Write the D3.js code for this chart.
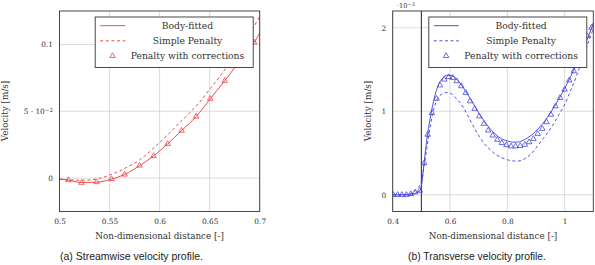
<!DOCTYPE html>
<html>
<head>
<meta charset="utf-8">
<script src="https://cdn.jsdelivr.net/npm/d3@7"></script>
<style>
  body { margin: 0; background: #fff; }
  svg { display: block; }
</style>
</head>
<body>
<div id="chart"></div>
<script>
// ---- data ----
const seriesNames = ["Body-fitted", "Simple Penalty", "Penalty with corrections"];

// (a) streamwise velocity
const streamBodyFitted = [[0.5,-0.0006],[0.509,-0.0016],[0.522,-0.0033],[0.537,-0.0031],[0.552,-0.0008],
  [0.565,0.0027],[0.58,0.0093],[0.594,0.0166],[0.608,0.0256],[0.622,0.0355],[0.6365,0.046],[0.6505,0.0592],
  [0.665,0.0728],[0.68,0.0875],[0.6945,0.1015],[0.7,0.1085]];
const streamSimplePenalty = [[0.5,-0.0008],[0.51,-0.0013],[0.52,-0.0016],[0.53,-0.0014],[0.54,-0.0002],
  [0.55,0.0022],[0.56,0.0053],[0.57,0.0092],[0.58,0.0136],[0.59,0.0198],[0.6,0.0267],[0.61,0.0339],
  [0.62,0.0414],[0.63,0.0488],[0.64,0.0568],[0.65,0.0664],[0.66,0.0758],[0.67,0.0863],[0.68,0.0972],
  [0.69,0.108],[0.7,0.121]];
const streamCorrected = [[0.509,-0.0015],[0.522,-0.0035],[0.537,-0.003],[0.552,-0.0007],[0.565,0.0027],
  [0.58,0.0094],[0.594,0.0166],[0.608,0.0256],[0.622,0.0355],[0.6365,0.046],[0.6505,0.0594],
  [0.665,0.0728],[0.679,0.0875],[0.6945,0.1015]];
const streamXTicks = [0.5, 0.55, 0.6, 0.65, 0.7];
const streamXLabels = ["0.5", "0.55", "0.6", "0.65", "0.7"];
const streamYTicks = [0, 0.05, 0.1];
const streamYLabels = ["0", "5 · 10^−2", "0.1"];

// (b) transverse velocity (×10^-3)
const transBodyFitted = [[0.4,0],[0.46,0],[0.48,0.02],[0.495,0.05],[0.5,0.1],[0.51,0.4],[0.52,0.68],
  [0.53,0.9],[0.54,1.08],[0.55,1.22],[0.56,1.32],[0.575,1.4],[0.59,1.43],[0.6,1.43],[0.615,1.41],
  [0.63,1.36],[0.645,1.29],[0.66,1.21],[0.68,1.1],[0.7,0.98],[0.72,0.88],[0.74,0.79],[0.76,0.72],
  [0.78,0.67],[0.8,0.645],[0.82,0.63],[0.835,0.63],[0.85,0.645],[0.87,0.68],[0.89,0.73],[0.91,0.8],
  [0.93,0.88],[0.95,0.98],[0.97,1.09],[0.99,1.21],[1.01,1.34],[1.03,1.48],[1.05,1.63],[1.07,1.79],
  [1.09,1.96],[1.1,2.06]];
const transSimplePenalty = [[0.4,0],[0.44,0],[0.46,0.01],[0.48,0.05],[0.49,0.09],[0.5,0.16],[0.51,0.35],
  [0.52,0.58],[0.53,0.8],[0.54,0.98],[0.55,1.1],[0.56,1.17],[0.575,1.21],[0.59,1.225],[0.605,1.21],
  [0.62,1.16],[0.64,1.08],[0.66,0.96],[0.68,0.83],[0.7,0.71],[0.72,0.61],[0.74,0.54],[0.76,0.48],
  [0.78,0.445],[0.8,0.42],[0.82,0.405],[0.84,0.405],[0.86,0.43],[0.88,0.48],[0.9,0.56],[0.92,0.65],
  [0.94,0.74],[0.96,0.84],[0.98,0.96],[1.0,1.08],[1.02,1.24],[1.04,1.41],[1.06,1.6],[1.08,1.8],[1.1,1.99]];
const transCorrected = [[0.402,0],[0.417,0],[0.432,0],[0.448,0],[0.463,0.01],[0.478,0.03],[0.495,0.05],
  [0.51,0.38],[0.522,0.72],[0.537,0.98],[0.553,1.15],[0.565,1.31],[0.58,1.38],[0.595,1.41],[0.61,1.4],
  [0.623,1.36],[0.639,1.3],[0.655,1.22],[0.67,1.12],[0.686,1.03],[0.702,0.94],[0.718,0.85],[0.733,0.77],
  [0.749,0.71],[0.765,0.66],[0.781,0.62],[0.797,0.595],[0.813,0.58],[0.829,0.58],[0.845,0.585],
  [0.861,0.6],[0.876,0.63],[0.891,0.67],[0.906,0.73],[0.922,0.79],[0.937,0.87],[0.952,0.96],
  [0.968,1.06],[0.984,1.16],[1.0,1.26],[1.016,1.37],[1.032,1.48],[1.047,1.6],[1.063,1.73],
  [1.079,1.9],[1.094,2.0]];
const transXTicks = [0.4, 0.6, 0.8, 1.0];
const transXLabels = ["0.4", "0.6", "0.8", "1"];
const transYTicks = [0, 1, 2];
const transYLabels = ["0", "1", "2"];
const transWallX = [0.5];

// ---- drawing ----
const width = 595, height = 265;
const serif = "'DejaVu Serif', serif";
const textColor = "#333";

const svg = d3.select("#chart").append("svg")
  .attr("width", width)
  .attr("height", height)
  .attr("viewBox", [0, 0, width, height]);

// write "a^b" as text with a raised exponent
function setLabel(sel, label) {
  const parts = label.split("^");
  sel.text(null);
  sel.append("tspan").text(parts[0]);
  if (parts[1]) {
    sel.append("tspan").attr("dy", "-0.45em").attr("font-size", "0.75em").text(parts[1]);
  }
}

function drawPanel(p) {
  const x = d3.scaleLinear().domain(p.xDomain).range([p.left, p.right]);
  const y = d3.scaleLinear().domain(p.yDomain).range([p.bottom, p.top]);
  const g = svg.append("g");

  const clipId = "clip-" + p.id;
  g.append("clipPath").attr("id", clipId)
    .append("rect")
    .attr("x", p.left).attr("y", p.top)
    .attr("width", p.right - p.left).attr("height", p.bottom - p.top);

  // grid
  g.append("g").selectAll("line").data(p.xTicks).join("line")
    .attr("x1", d => x(d)).attr("x2", d => x(d))
    .attr("y1", p.top).attr("y2", p.bottom)
    .attr("stroke", "#d2d2d2").attr("stroke-width", 0.8);
  g.append("g").selectAll("line").data(p.yTicks).join("line")
    .attr("x1", p.left).attr("x2", p.right)
    .attr("y1", d => y(d)).attr("y2", d => y(d))
    .attr("stroke", "#d2d2d2").attr("stroke-width", 0.8);

  // tick labels through d3 axes
  g.append("g")
    .attr("transform", `translate(0,${p.bottom})`)
    .call(d3.axisBottom(x).tickValues(p.xTicks).tickSize(0).tickPadding(7)
      .tickFormat((d, i) => p.xLabels[i]))
    .call(a => a.select(".domain").remove())
    .selectAll("text")
    .attr("font-family", serif).attr("font-size", 7.4).attr("fill", textColor);

  g.append("g")
    .attr("transform", `translate(${p.left},0)`)
    .call(d3.axisLeft(y).tickValues(p.yTicks).tickSize(0).tickPadding(6.5)
      .tickFormat((d, i) => p.yLabels[i]))
    .call(a => a.select(".domain").remove())
    .selectAll("text")
    .attr("font-family", serif).attr("font-size", 7.4).attr("fill", textColor)
    .each(function(d, i) { setLabel(d3.select(this), p.yLabels[i]); });

  if (p.wallX) {
    g.append("g").selectAll("line").data(p.wallX).join("line")
      .attr("x1", d => x(d)).attr("x2", d => x(d))
      .attr("y1", p.top).attr("y2", p.bottom)
      .attr("stroke", "#222").attr("stroke-width", 1);
  }

  // series
  const line = d3.line().x(d => x(d[0])).y(d => y(d[1])).curve(d3.curveMonotoneX);
  const plot = g.append("g").attr("clip-path", `url(#${clipId})`);
  plot.append("path").datum(p.simple)
    .attr("d", line).attr("fill", "none")
    .attr("stroke", p.color).attr("stroke-width", 0.9).attr("stroke-dasharray", "3,2.6");
  plot.append("path").datum(p.fitted)
    .attr("d", line).attr("fill", "none")
    .attr("stroke", p.color).attr("stroke-width", 0.9);
  const tri = d3.symbol().type(d3.symbolTriangle).size(13);
  plot.append("g").selectAll("path").data(p.corrected).join("path")
    .attr("transform", d => `translate(${x(d[0])},${y(d[1])})`)
    .attr("d", tri)
    .attr("fill", "none").attr("stroke", p.color).attr("stroke-width", 0.75);

  // frame
  g.append("rect")
    .attr("x", p.left).attr("y", p.top)
    .attr("width", p.right - p.left).attr("height", p.bottom - p.top)
    .attr("fill", "none").attr("stroke", "#333").attr("stroke-width", 0.9);

  // legend
  const lw = 158, lh = 50.5;
  const lx = p.right - 6.5 - lw, ly = p.top + 6;
  const leg = g.append("g").attr("transform", `translate(${lx},${ly})`);
  leg.append("rect").attr("width", lw).attr("height", lh)
    .attr("fill", "#fff").attr("stroke", "#333").attr("stroke-width", 0.9);
  const rows = leg.selectAll("g").data(seriesNames).join("g")
    .attr("transform", (d, i) => `translate(0,${8.7 + i * 15.1})`);
  rows.filter((d, i) => i < 2).append("line")
    .attr("x1", 5).attr("x2", 30).attr("y1", 0).attr("y2", 0)
    .attr("stroke", p.color).attr("stroke-width", 0.9)
    .attr("stroke-dasharray", (d, i) => i === 1 ? "3,2.6" : null);
  rows.filter((d, i) => i === 2).append("path")
    .attr("transform", "translate(17.3,0)")
    .attr("d", tri)
    .attr("fill", "none").attr("stroke", p.color).attr("stroke-width", 0.75);
  rows.append("text")
    .attr("x", 92.3).attr("y", 3.2)
    .attr("text-anchor", "middle")
    .attr("font-family", serif).attr("font-size", 9.2).attr("fill", textColor)
    .text(d => d);

  // axis titles
  g.append("text")
    .attr("x", (p.left + p.right) / 2).attr("y", 239)
    .attr("text-anchor", "middle")
    .attr("font-family", serif).attr("font-size", 8.8).attr("fill", textColor)
    .text("Non-dimensional distance [-]");
  g.append("text")
    .attr("transform", `translate(${p.yTitleX},111) rotate(-90)`)
    .attr("text-anchor", "middle")
    .attr("font-family", serif).attr("font-size", 8.8).attr("fill", textColor)
    .text("Velocity [m/s]");

  // caption
  g.append("text")
    .attr("x", p.captionX).attr("y", 260)
    .attr("text-anchor", "middle")
    .attr("font-family", "'Liberation Sans Narrow', 'Liberation Sans', sans-serif")
    .attr("font-size", 10.8).attr("fill", "#222")
    .attr("textLength", p.captionWidth).attr("lengthAdjust", "spacingAndGlyphs")
    .text(p.caption);

  return { x, y, g };
}

drawPanel({
  id: "a", left: 59.5, right: 259.7, top: 11, bottom: 211.5,
  xDomain: [0.5, 0.7], yDomain: [-0.025, 0.125],
  xTicks: streamXTicks, xLabels: streamXLabels,
  yTicks: streamYTicks, yLabels: streamYLabels,
  fitted: streamBodyFitted, simple: streamSimplePenalty, corrected: streamCorrected,
  color: "#e8393d", yTitleX: 8,
  caption: "(a) Streamwise velocity profile.", captionX: 131.5, captionWidth: 143
});

const b = drawPanel({
  id: "b", left: 392.7, right: 593.3, top: 11, bottom: 211.5,
  xDomain: [0.4, 1.1], yDomain: [-0.2, 2.2],
  xTicks: transXTicks, xLabels: transXLabels,
  yTicks: transYTicks, yLabels: transYLabels,
  fitted: transBodyFitted, simple: transSimplePenalty, corrected: transCorrected,
  wallX: transWallX,
  color: "#3c3cdc", yTitleX: 371,
  caption: "(b) Transverse velocity profile.", captionX: 477, captionWidth: 138
});

// scale factor above panel (b)
const scaleLabel = b.g.append("text")
  .attr("x", 397).attr("y", 8)
  .attr("font-family", serif).attr("font-size", 6.6).attr("fill", textColor);
setLabel(scaleLabel, "·10^−3");
</script>
</body>
</html>
